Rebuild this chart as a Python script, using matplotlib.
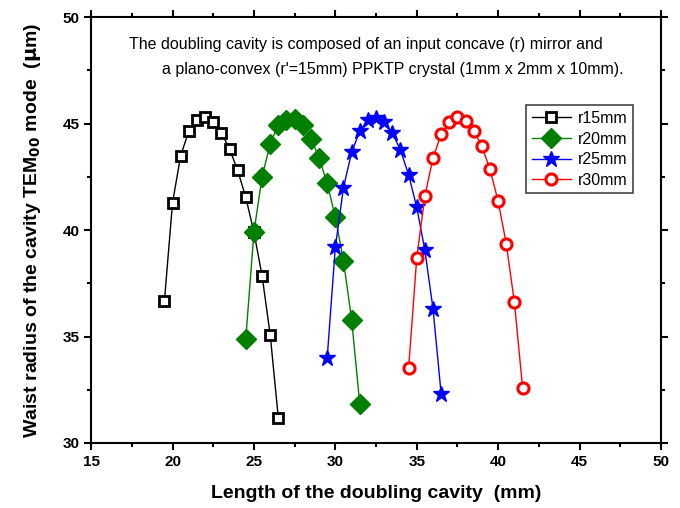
import matplotlib
matplotlib.use('Agg')
import matplotlib.pyplot as plt
from matplotlib.ticker import MultipleLocator

plt.rcParams['font.family'] = ['Liberation Sans', 'DejaVu Sans']

# cavity length (mm) and waist radius (um) for each concave mirror radius
x_r15 = [19.5, 20, 20.5, 21, 21.5, 22, 22.5, 23, 23.5, 24, 24.5, 25, 25.5, 26, 26.5]
y_r15 = [36.65, 41.28, 43.5, 44.65, 45.17, 45.33, 45.07, 44.57, 43.82, 42.81, 41.54, 39.9, 37.86, 35.08, 31.16]

x_r20 = [24.5, 25, 25.5, 26, 26.5, 27, 27.5, 28, 28.5, 29, 29.5, 30, 30.5, 31, 31.5]
y_r20 = [34.9, 39.9, 42.5, 44.06, 44.96, 45.17, 45.2, 44.96, 44.3, 43.4, 42.2, 40.6, 38.56, 35.8, 31.84]

x_r25 = [29.5, 30, 30.5, 31, 31.5, 32, 32.5, 33, 33.5, 34, 34.5, 35, 35.5, 36, 36.5]
y_r25 = [34.0, 39.2, 42.0, 43.66, 44.65, 45.17, 45.28, 45.07, 44.57, 43.76, 42.6, 41.07, 39.05, 36.3, 32.3]

x_r30 = [34.5, 35, 35.5, 36, 36.5, 37, 37.5, 38, 38.5, 39, 39.5, 40, 40.5, 41, 41.5]
y_r30 = [33.5, 38.7, 41.6, 43.4, 44.5, 45.07, 45.3, 45.15, 44.68, 43.94, 42.85, 41.36, 39.35, 36.6, 32.6]

fig = plt.figure(figsize=(6.8, 5.08), dpi=100)
ax = fig.add_axes([0.134, 0.128, 0.838, 0.838])

ax.plot(x_r15, y_r15, color='black', lw=1, marker='s', ms=7, mfc='white',
        mec='black', mew=2, label='r15mm')
ax.plot(x_r20, y_r20, color='#007F00', lw=1, marker='D', ms=10.5, mfc='#007F00',
        mec='#007F00', label='r20mm')
ax.plot(x_r25, y_r25, color='blue', lw=1, marker='*', ms=12, mfc='blue',
        mec='blue', label='r25mm')
ax.plot(x_r30, y_r30, color='red', lw=1, marker='o', ms=8, mfc='white',
        mec='red', mew=2.2, label='r30mm')

ax.set_xlim(15, 50)
ax.set_ylim(30, 50)
ax.xaxis.set_major_locator(MultipleLocator(5))
ax.xaxis.set_minor_locator(MultipleLocator(2.5))
ax.yaxis.set_major_locator(MultipleLocator(5))
ax.yaxis.set_minor_locator(MultipleLocator(2.5))
ax.tick_params(which='both', direction='out', top=True, right=True, width=1.5)
ax.tick_params(which='major', length=5, labelsize=11)
ax.tick_params(which='minor', length=3)
for lab in ax.get_xticklabels() + ax.get_yticklabels():
    lab.set_fontweight('bold')
for sp in ax.spines.values():
    sp.set_linewidth(1.5)

ax.set_xlabel('Length of the doubling cavity  (mm)', fontsize=14, fontweight='bold', labelpad=12)
ax.set_ylabel(r'Waist radius of the cavity TEM$_{\mathbf{00}}$ mode  ($\mathbf{\mu}$m)',
              fontsize=14, fontweight='bold', labelpad=14)

ax.text(31.9, 48.73, 'The doubling cavity is composed of an input concave (r) mirror and',
        fontsize=11.5, va='center', ha='center')
ax.text(33.5, 47.55, "a plano-convex (r'=15mm) PPKTP crystal (1mm x 2mm x 10mm).",
        fontsize=11.5, va='center', ha='center')

leg = ax.legend(loc='upper right', bbox_to_anchor=(0.951, 0.793), fontsize=11.5,
                fancybox=False, edgecolor='#444444', framealpha=1,
                handlelength=2.5, handletextpad=0.4, labelspacing=0.35,
                borderpad=0.35, borderaxespad=0)
leg.get_frame().set_linewidth(1.2)

fig.savefig('out.png', dpi=100)
